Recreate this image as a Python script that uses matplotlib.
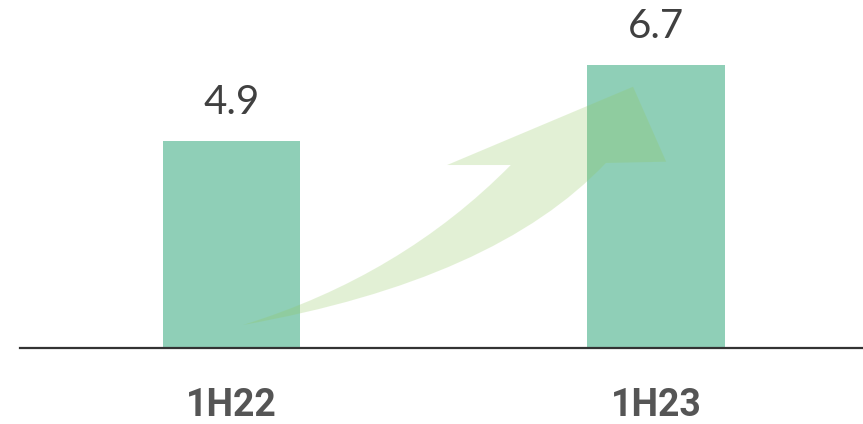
import matplotlib
matplotlib.use("Agg")
import matplotlib.pyplot as plt
from matplotlib.path import Path
from matplotlib.patches import PathPatch

categories = ["1H22", "1H23"]
values = [4.9, 6.7]
value_labels = ["4.9", "6.7"]

bar_color = "#8FCFB7"
arrow_color = (143 / 255, 199 / 255, 91 / 255)

fig = plt.figure(figsize=(8.63, 4.24), dpi=100)
ax = fig.add_axes([20 / 863, 1 - 348 / 424, 1 - 20 / 863, 348 / 424])

x = list(range(len(categories)))
bars = ax.bar(x, values, width=0.323, color=bar_color, zorder=2)

for b, lab in zip(bars, value_labels):
    ax.annotate(lab, (b.get_x() + b.get_width() / 2, b.get_height()),
                xytext=(0, 14), textcoords="offset points",
                ha="center", va="bottom", fontsize=29, color="#404040",
                family="Lato", fontweight="normal")

# decorative growth arrow (data units)
verts = [(0.027, 0.544), (0.40, 1.70), (0.658, 4.326),
         (0.508, 4.326), (0.946, 6.177), (1.024, 4.404), (0.882, 4.374),
         (0.622, 1.608), (0.027, 0.544), (0.027, 0.544)]
codes = [Path.MOVETO, Path.CURVE3, Path.CURVE3,
         Path.LINETO, Path.LINETO, Path.LINETO, Path.LINETO,
         Path.CURVE3, Path.CURVE3, Path.CLOSEPOLY]
ax.add_patch(PathPatch(Path(verts, codes), facecolor=arrow_color,
                       edgecolor="none", alpha=0.25, zorder=3))

ax.set_xlim(-0.498, 1.4876)
ax.set_ylim(0, 348 / 42.3)
ax.set_xticks(x)
ax.set_xticklabels(categories, fontsize=27, fontweight="bold",
                   color="#555555", family="Roboto")
ax.tick_params(axis="x", length=0, pad=28)
ax.set_yticks([])
for s in ["top", "right", "left"]:
    ax.spines[s].set_visible(False)
ax.spines["bottom"].set_color("#333333")
ax.spines["bottom"].set_linewidth(1.6)
ax.spines["bottom"].set_zorder(4)

fig.savefig("out.png", dpi=100)
